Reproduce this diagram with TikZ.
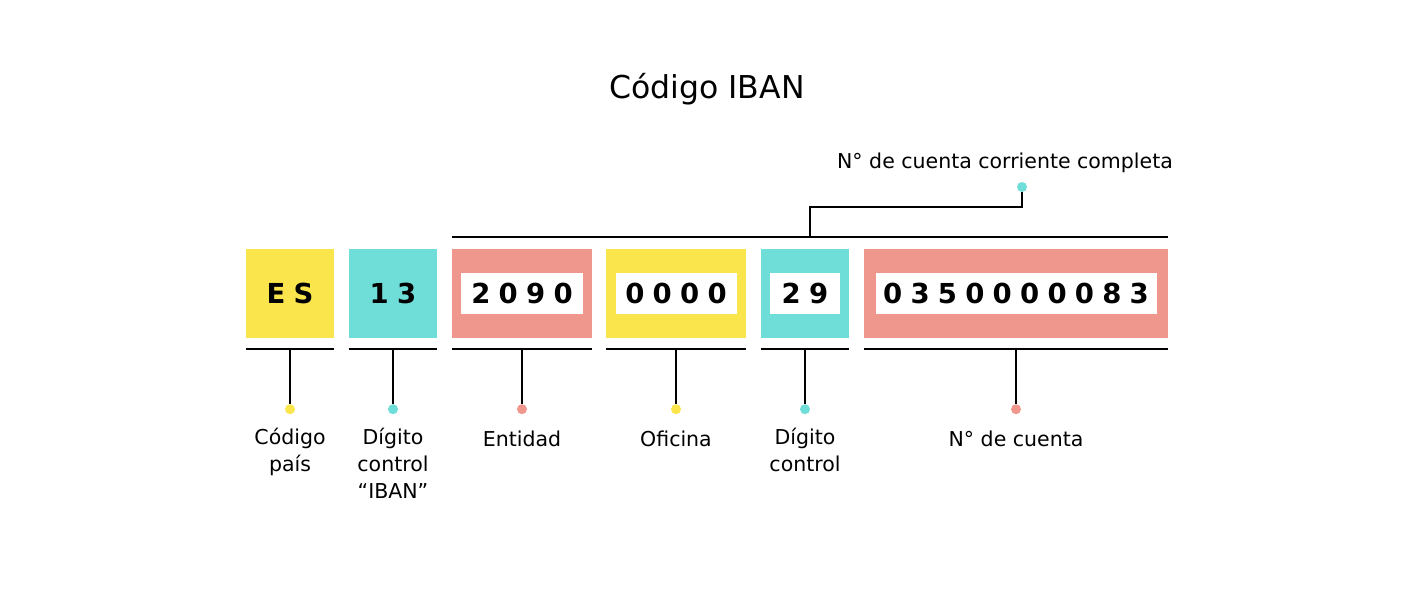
\documentclass[tikz,border=0pt]{standalone}
\usepackage{fontspec}
\setmainfont{DejaVu Sans}
\newfontfamily\digitfont[LetterSpace=30]{DejaVu Sans}
\definecolor{cyel}{RGB}{250,229,77}
\definecolor{cteal}{RGB}{111,221,216}
\definecolor{csalm}{RGB}{239,150,141}
\newcommand{\trk}[1]{\kern-0.15em#1\kern-0.15em}
\tikzset{
  box/.style={inner sep=0pt, minimum height=89pt, font=\fontsize{27.5}{30}\digitfont\bfseries},
  inset/.style={fill=white, inner sep=0pt, minimum height=41pt, font=\fontsize{27.5}{30}\digitfont\bfseries},
  rule/.style={line width=2.2pt},
  dot/.style={circle, inner sep=0pt, minimum size=10pt},
  lbl/.style={font=\fontsize{20.5}{27}\selectfont, align=center, anchor=north, inner sep=0pt, execute at begin node=\strut},
}
\begin{document}
\begin{tikzpicture}[x=1pt,y=-1pt]
\fill[white] (0,0) rectangle (1414,602);
\useasboundingbox (0,0) rectangle (1414,602);

% title
\node[font=\fontsize{31.5}{34}\selectfont, anchor=base, inner sep=0pt] (title) at (707,99) {Código IBAN};

% boxes
\node[box, fill=cyel, minimum width=88pt] (es) at (290,293.5) {\trk{ES}};
\node[box, fill=cteal, minimum width=88pt] (dc) at (393,293.5) {\trk{13}};
\node[box, fill=csalm, minimum width=140pt] (ent) at (522,293.5) {};
\node[box, fill=cyel, minimum width=140pt] (ofi) at (676,293.5) {};
\node[box, fill=cteal, minimum width=88pt] (dc2) at (805,293.5) {};
\node[box, fill=csalm, minimum width=304pt] (cta) at (1016,293.5) {};

% insets
\node[inset, minimum width=122pt] (entin) at (ent.center) {\trk{2090}};
\node[inset, minimum width=121pt] (ofiin) at (ofi.center) {\trk{0000}};
\node[inset, minimum width=70pt] (dc2in) at (dc2.center) {\trk{29}};
\node[inset, minimum width=281pt] (ctain) at (cta.center) {\trk{0350000083}};

% top bracket
\draw[rule] ([yshift=12pt]ent.north west) -- ([yshift=12pt]cta.north east);
\coordinate (tj) at (810,237);
\node[dot, fill=cteal] (topdot) at (1022,187) {};
\draw[rule, line width=2pt] (tj) -- ++(0,-30) -| (topdot);
\node[font=\fontsize{20.5}{24}\selectfont, anchor=base, inner sep=0pt] (toplbl) at (1005,168) {N° de cuenta corriente completa};

% bottom rules, ticks, dots, labels
\foreach \b/\c/\t in {es/cyel/{Código\\país}, dc/cteal/{Dígito\\control\\“IBAN”}, ent/csalm/{Entidad}, ofi/cyel/{Oficina}, dc2/cteal/{Dígito\\control}, cta/csalm/{N° de cuenta}}{
  \draw[rule] ([yshift=-11pt]\b.south west) -- ([yshift=-11pt]\b.south east);
  \node[dot, fill=\c] (\b dot) at ([yshift=-71pt]\b.south) {};
  \draw[rule, line width=2pt] ([yshift=-11pt]\b.south) -- (\b dot);
  \node[lbl] (\b lbl) at ([yshift=-18.3pt]\b dot.center) {\t};
}
\end{tikzpicture}
\end{document}
